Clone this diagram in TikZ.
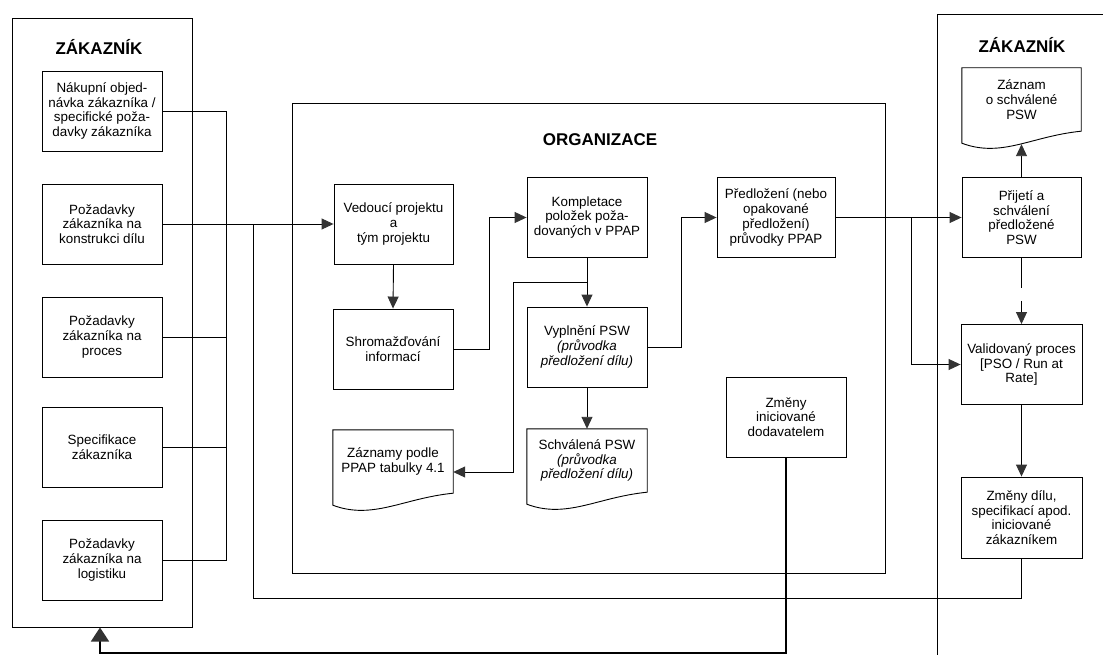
\documentclass[tikz,border=0pt]{standalone}
\usepackage{fontspec}
\setmainfont{Liberation Sans}
\usetikzlibrary{arrows.meta,calc}
\newcommand\docpath[1]{%
  \draw[line width=0.9pt] (#1.north west) -- (#1.north east) -- (#1.south east)
    .. controls ($(#1.south east)+(-50,5)$) and ($(#1.south west)+(40,27)$) ..
    ($(#1.south west)+(0,12)$) -- cycle;}
\begin{document}
\begin{tikzpicture}[x=1pt,y=-1pt,
  every node/.style={font=\fontsize{13.4}{14.7}\selectfont, align=center, inner sep=0pt},
  box/.style={draw, line width=0.9pt, minimum width=120pt, minimum height=80pt},
  doc/.style={minimum width=120pt, minimum height=63pt},
  title/.style={font=\fontsize{17}{18}\selectfont\bfseries},
  panel/.style={draw, line width=1pt},
  conn/.style={line width=0.9pt},
  arr/.style={conn, -{Triangle[length=12pt,width=11pt,color=black!80]}},
  thickarr/.style={line width=1.8pt, -{Triangle[length=14pt,width=18pt,color=black!80]}}
]
\fill[white] (0,0) rectangle (1103,655);
\useasboundingbox (0,0) rectangle (1103,655);

% panels
\node[panel, minimum width=180pt, minimum height=608pt] (LP) at (102,323) {};
\node[panel, minimum width=593pt, minimum height=469pt] (OP) at (588.5,338.5) {};
\coordinate (RPb) at (937,655);
\coordinate (RPc) at (937,15);
\coordinate (RPe) at (1103,15);
\draw[line width=1pt] (RPb) -- (RPc) -- (RPe);

% titles
\node[title] (LT) at (99,47) {ZÁKAZNÍK};
\node[title] (OT) at (600,140) {ORGANIZACE};
\node[title] (RT) at (1022,45) {ZÁKAZNÍK};

% left customer boxes
\node[box] (L1) at (102,111) {Nákupní objed-\\návka zákazníka /\\specifické poža-\\davky zákazníka};
\node[box] (L2) at (102,224) {Požadavky\\zákazníka na\\konstrukci dílu};
\node[box] (L3) at (102,337) {Požadavky\\zákazníka na\\proces};
\node[box] (L4) at (102,447) {Specifikace\\zákazníka};
\node[box] (L5) at (102,560) {Požadavky\\zákazníka na\\logistiku};

% organisation
\node[box, minimum width=119pt] (Ved) at (393.5,224) {Vedoucí projektu\\a\\tým projektu};
\node[box] (Shr) at (393,349) {Shromažďování\\informací};
\node[doc] (Zaz) at (393,461.5) {Záznamy podle\\PPAP tabulky 4.1};
\docpath{Zaz}
\node[box] (Kom) at (587,217.5) {Kompletace\\položek poža-\\dovaných v PPAP};
\node[box] (Vyp) at (587,347) {Vyplnění PSW\\\textit{(průvodka}\\\textit{předložení dílu)}};
\node[doc] (Sch) at (587,460.5) {Schválená PSW\\\textit{(průvodka}\\\textit{předložení dílu)}};
\docpath{Sch}
\node[box, minimum width=118pt] (Pre) at (776,217.5) {Předložení (nebo\\opakované\\předložení)\\průvodky PPAP};
\node[box] (Zdod) at (786,417) {Změny\\iniciované\\dodavatelem};

% right customer
\node[doc, minimum width=119pt] (ZS) at (1021.5,99.5) {Záznam\\o schválené\\PSW};
\docpath{ZS}
\node[box, minimum width=119pt] (Prij) at (1021.5,217.5) {Přijetí a\\schválení\\předložené\\PSW};
\node[box, minimum width=121pt] (Val) at (1021.5,364.5) {Validovaný proces\\{[}PSO / Run at\\Rate{]}};
\node[box, minimum width=121pt, minimum height=81pt] (ZD) at (1021.5,517.5) {Změny dílu,\\specifikací apod.\\iniciované\\zákazníkem};

% connectors: left bus
\coordinate (bus) at (226,0);
\draw[conn] (L1.east) -| (L5.east -| bus) -- (L5.east);
\draw[conn] (L3.east) -- (L3.east -| bus);
\draw[conn] (L4.east) -- (L4.east -| bus);
\draw[arr] (L2.east) -- (Ved.west);

% organisation connectors
\draw[arr] (Ved.south) -- (Shr.north);
\coordinate (j1) at (489,0);
\draw[arr] (Shr.east) -| (j1 |- Kom.west) -- (Kom.west);
\draw[arr] (Kom.south) -- (Vyp.north);
\coordinate (br) at ($(Kom.south)!0.5!(Vyp.north)$);
\coordinate (j2) at (513,0);
\coordinate (ZazIn) at ($(Zaz.east)+(0,10.5)$);
\draw[arr] (br) -| (j2 |- ZazIn) -- (ZazIn);
\draw[arr] (Vyp.south) -- (Sch.north);
\coordinate (j3) at (681,0);
\draw[arr] (Vyp.east) -| (j3 |- Pre.west) -- (Pre.west);

% to customer
\draw[arr] (Pre.east) -- (Prij.west);
\coordinate (j4) at (911,0);
\draw[arr] (j4 |- Pre.east) |- (Val.west);
\draw[arr] (Prij.north) -- ($(ZS.south)+(0,13)$);
\draw[conn] (Prij.south) -- ++(0,30);
\draw[arr] ($(Prij.south)+(0,43)$) -- (Val.north);
\draw[arr] (Val.south) -- (ZD.north);

% feedback loops
\coordinate (j5) at (253,598);
\draw[conn] (ZD.south) |- (j5) -- (j5 |- L2.east);
\coordinate (j6) at (100,653);
\draw[thickarr] (Zdod.south) |- (j6) -- (j6 |- LP.south);
\end{tikzpicture}
\end{document}
